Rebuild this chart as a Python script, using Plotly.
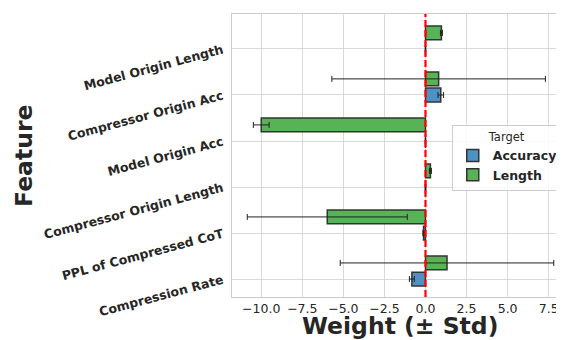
import plotly.graph_objects as go

features = ["Compression Rate", "PPL of Compressed CoT", "Compressor Origin Length",
            "Model Origin Acc", "Compressor Origin Acc", "Model Origin Length"]
acc_weight = [-0.83, -0.12, 0.0, 0.0, 0.93, 0.0]
acc_std = [0.15, 0.04, 0.02, 0.01, 0.17, 0.01]
len_weight = [1.31, -5.98, 0.30, -10.0, 0.80, 0.97]
len_std = [6.5, 4.87, 0.06, 0.48, 6.5, 0.06]
xticks = [-10.0, -7.5, -5.0, -2.5, 0.0, 2.5, 5.0, 7.5]

idx = list(range(len(features)))
off = 0.35

fig = go.Figure()
fig.add_trace(go.Bar(
    y=idx, x=acc_weight, orientation="h", width=0.3, name="Accuracy",
    marker=dict(color="#4c92c3", line=dict(color="#333333", width=1.5)),
    error_x=dict(type="data", array=acc_std, color="#222222", thickness=1, width=3),
))
fig.add_trace(go.Bar(
    y=[i + off for i in idx], x=len_weight, orientation="h", width=0.3, name="Length",
    marker=dict(color="#56b356", line=dict(color="#333333", width=1.5)),
    error_x=dict(type="data", array=len_std, color="#222222", thickness=1, width=3),
))

fig.add_shape(type="line", xref="x", yref="paper", x0=0, x1=0, y0=0, y1=1,
              line=dict(color="#ff0000", width=2.2, dash="7px,3px"), layer="above")

fig.add_annotation(text="Weight (± Std)", xref="paper", yref="paper", x=0.51, y=-0.104,
                   xanchor="center", yanchor="middle", showarrow=False,
                   font=dict(size=23.5, weight="bold", color="#262626"))
fig.add_annotation(text="Feature", xref="paper", yref="paper", x=-0.634, y=0.5,
                   xanchor="center", yanchor="middle", showarrow=False, textangle=-90,
                   font=dict(size=23.5, weight="bold", color="#262626"))

fig.update_layout(
    width=556, height=332,
    margin=dict(l=224, r=1, t=6, b=43),
    plot_bgcolor="white", paper_bgcolor="white",
    font=dict(family="DejaVu Sans", color="#262626"),
    barmode="overlay",
    showlegend=True,
    legend=dict(
        title=dict(text="Target", font=dict(size=11.5, weight="normal", color="#262626"), side="top center"),
        font=dict(size=12.5, weight="bold", color="#262626"),
        x=0.668, xanchor="left", y=0.608, yanchor="top",
        bgcolor="rgba(255,255,255,0.85)", bordercolor="#cccccc", borderwidth=1,
        tracegroupgap=0, itemwidth=30,
    ),
    xaxis=dict(
        range=[-11.78, 8.25], tickvals=xticks, ticktext=[f"{v:.1f}".replace("-", "\u2212") for v in xticks],
        tickfont=dict(size=12.5, color="#262626"),
        showgrid=True, gridcolor="#d9d9d9", gridwidth=1, zeroline=False,
        showline=True, linecolor="#cccccc", linewidth=1, mirror=True,
        ticks="", ticklen=0, automargin=False,
    ),
    yaxis=dict(
        range=[-0.39, 5.76], tickvals=idx, ticktext=features,
        tickangle=-15, tickfont=dict(size=12.5, weight="bold", color="#262626"),
        showgrid=True, gridcolor="#d9d9d9", gridwidth=1, zeroline=False,
        showline=True, linecolor="#cccccc", linewidth=1, mirror=True,
        ticks="", ticklen=0, automargin=False, ticklabelstandoff=6,
    ),
)

fig.write_html("out.html")
